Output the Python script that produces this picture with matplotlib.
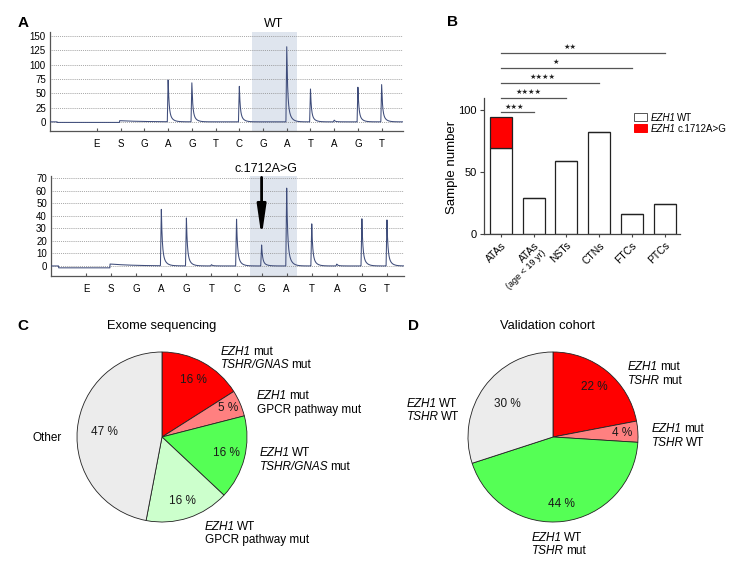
import numpy as np
import matplotlib
matplotlib.use("Agg")
import matplotlib.pyplot as plt
from matplotlib.patches import Rectangle

plt.rcParams['font.family'] = ['Liberation Sans', 'DejaVu Sans']

# ---------------- data ----------------
pyro_letters = list("ESGAGTCGATAGT")
wt_peaks = [0, 2, 0, 76, 69, 0, 64, 0, 133, 58, 3, 63, 66]
mut_peaks = [0, 1.5, 0, 46, 39, 1, 38, 17, 63, 34, 1.5, 38, 37]
wt_yticks = [0, 25, 50, 75, 100, 125, 150]
mut_yticks = [0, 10, 20, 30, 40, 50, 60, 70]

bar_cats = ["ATAs", "ATAs", "NSTs", "CTNs", "FTCs", "PTCs"]
bar_wt = [69, 29, 59, 82, 16, 24]
bar_mut = [25, 0, 0, 0, 0, 0]
sig_pairs = [(0, 1), (0, 2), (0, 3), (0, 4), (0, 5)]
sig_stars = [3, 4, 4, 1, 2]

c_values = [16, 5, 16, 16, 47]
c_colors = ["#ff0000", "#ff8080", "#55ff55", "#ccffcc", "#ececec"]
d_values = [22, 4, 44, 30]
d_colors = ["#ff0000", "#ff8080", "#55ff55", "#ececec"]

# ---------------- figure ----------------
W, H = 748, 572
fig = plt.figure(figsize=(W / 100, H / 100), dpi=100)


def ax_px(l, t, r, b):
    return fig.add_axes([l / W, 1 - b / H, (r - l) / W, (b - t) / H])


def peak_shape(t):
    out = np.zeros_like(t)
    rise = (t >= -0.035) & (t < 0)
    out[rise] = (t[rise] + 0.035) / 0.035
    dec = t >= 0
    out[dec] = 0.7 * np.exp(-t[dec] / 0.035) + 0.3 * np.exp(-t[dec] / 0.12)
    return out


def pyrogram(ax, peaks, xlim, ylim, yticks, pre_offset, band):
    x = np.linspace(xlim[0], xlim[1], 4000)
    pos = np.arange(1, len(peaks) + 1)
    y = np.zeros_like(x)
    for i, (p, h) in enumerate(zip(pos, peaks)):
        if i == 1:  # substrate step decays slowly
            t = x - p
            s = np.zeros_like(x)
            s[t >= -0.05] = np.exp(-np.clip(t[t >= -0.05], 0, None) / 0.9)
            y += h * s
        else:
            y += h * peak_shape(x - p)
    y[(x > xlim[0] + 0.3) & (x < pos[1] - 0.05)] += pre_offset
    ax.axvspan(band[0], band[1], color="#dfe5ee", zorder=0, lw=0)
    for yt in yticks:
        ax.axhline(yt, color="#8a8a8a", lw=0.6, ls=(0, (1, 1.3)), zorder=1)
    ax.plot(x, y, color="#3e4c7a", lw=0.75, zorder=3)
    ax.set_xlim(*xlim)
    ax.set_ylim(*ylim)
    ax.set_yticks(yticks)
    ax.set_xticks(pos)
    ax.set_xticklabels(pyro_letters)
    ax.tick_params(axis="y", length=0, pad=3, labelsize=7)
    ax.tick_params(axis="x", direction="in", length=2.5, pad=6, labelsize=7,
                   color="#555555", width=0.8)
    for s in ["top", "right"]:
        ax.spines[s].set_visible(False)
    for s in ["left", "bottom"]:
        ax.spines[s].set_color("#555555")
        ax.spines[s].set_linewidth(0.9)


# Panel A top
axA1 = ax_px(50, 32, 403, 131)
pyrogram(axA1, wt_peaks, (-0.98, 13.9), (-16, 157), wt_yticks, -1.0, (7.53, 9.42))
# Panel A bottom
axA2 = ax_px(51, 176, 404, 276)
pyrogram(axA2, mut_peaks, (-0.40, 13.68), (-8, 71.6), mut_yticks, -1.5, (7.54, 9.41))
axA2.annotate("", xy=(8, 23), xytext=(8, 70.5),
              arrowprops=dict(arrowstyle="-|>,head_length=0.9,head_width=0.13",
                              mutation_scale=20, lw=2.0, color="black",
                              shrinkA=0, shrinkB=0), annotation_clip=False, zorder=5)

# Panel B
axB = ax_px(484, 48, 680, 234)
xb = np.arange(len(bar_cats))
axB.bar(xb, bar_wt, width=0.67, color="white", edgecolor="#222222", lw=0.9, zorder=2)
axB.bar(xb, bar_mut, width=0.67, bottom=bar_wt, color="#ff0000", edgecolor="#222222",
        lw=0.9, zorder=2)
axB.set_xlim(-0.52, 5.47)
axB.set_ylim(0, 150)
axB.set_yticks([0, 50, 100])
axB.spines["left"].set_bounds(0, 110)
for s in ["top", "right"]:
    axB.spines[s].set_visible(False)
for s in ["left", "bottom"]:
    axB.spines[s].set_color("#444444")
    axB.spines[s].set_linewidth(0.9)
axB.tick_params(axis="y", length=3, pad=2, labelsize=8, color="#444444")
axB.tick_params(axis="x", length=2.5, pad=2, labelsize=7.5, color="#444444")
axB.set_xticks(xb)
axB.set_xticklabels(bar_cats, rotation=45, ha="right", rotation_mode="anchor")
axB.annotate("(age < 19 yr)", xy=(1, 0), xycoords=("data", "axes fraction"),
             xytext=(5.5, -10.5), textcoords="offset points", rotation=45,
             ha="right", va="top", rotation_mode="anchor", fontsize=6.5)
axB.set_ylabel("Sample number", fontsize=9.5)
axB.yaxis.set_label_coords(-0.135, 0.36)

for k, ((a, b), n) in enumerate(zip(sig_pairs, sig_stars)):
    yy = 98 + 12 * k
    axB.plot([a, b], [yy, yy], color="#555555", lw=0.9, clip_on=False)
    axB.text(a + 0.42 * (b - a), yy + 2.2, "\u2605" * n, ha="center", va="bottom",
             fontsize=5.2, family="DejaVu Sans", color="#222222")


# Pies
def pie(ax, values, colors, dists):
    wedges, _ = ax.pie(values, colors=colors, startangle=90, counterclock=False,
                       wedgeprops=dict(edgecolor="#222222", linewidth=0.6))
    lim = 100 / 85
    ax.set_xlim(-lim, lim)
    ax.set_ylim(-lim, lim)
    for w, v, d in zip(wedges, values, dists):
        ang = np.deg2rad((w.theta1 + w.theta2) / 2)
        ax.text(d * np.cos(ang), d * np.sin(ang), f"{v} %", ha="center",
                va="center", fontsize=8.5, color="#1a1a1a")


axC = ax_px(62, 337, 262, 537)
pie(axC, c_values, c_colors, [0.77, 0.85, 0.78, 0.79, 0.68])
axD = ax_px(453, 337, 653, 537)
pie(axD, d_values, d_colors, [0.77, 0.81, 0.79, 0.67])

# overlay in pixel coordinates for free text
ov = fig.add_axes([0, 0, 1, 1], zorder=10)
ov.set_xlim(0, W)
ov.set_ylim(H, 0)
ov.axis("off")


def mixed(x, y, parts, size=8.5):
    t = ov.text(x, y, parts[0][0], fontstyle=parts[0][1], fontsize=size,
                ha="left", va="baseline")
    prev = t
    for txt, st in parts[1:]:
        prev = ov.annotate(txt, xy=(1, 0), xycoords=prev, xytext=(0.16 * size, 0),
                           textcoords="offset points", ha="left", va="bottom",
                           fontstyle=st, fontsize=size)
    return t


def label2(x, y, line1, line2, gap=13.5, size=8.5):
    mixed(x, y, line1, size)
    mixed(x, y + gap, line2, size)


EZ = ("EZH1", "italic")
n = "normal"
# C labels (x, first baseline)
label2(221, 355, [EZ, ("mut", n)], [("TSHR/GNAS", "italic"), ("mut", n)])
label2(257, 399, [EZ, ("mut", n)], [("GPCR pathway mut", n)])
label2(260, 456, [EZ, ("WT", n)], [("TSHR/GNAS", "italic"), ("mut", n)])
label2(205, 530, [EZ, ("WT", n)], [("GPCR pathway mut", n)])
ov.text(62, 441, "Other", ha="right", va="baseline", fontsize=8.5)
# D labels
label2(628, 370, [EZ, ("mut", n)], [("TSHR", "italic"), ("mut", n)])
label2(652, 432, [EZ, ("mut", n)], [("TSHR", "italic"), ("WT", n)])
label2(532, 541, [EZ, ("WT", n)], [("TSHR", "italic"), ("mut", n)])
label2(407, 407, [EZ, ("WT", n)], [("TSHR", "italic"), ("WT", n)])

# Legend of panel B
ov.add_patch(Rectangle((634, 113), 13, 8, facecolor="white", edgecolor="#555555", lw=0.7))
ov.add_patch(Rectangle((634, 124), 13, 8, facecolor="#ff0000", edgecolor="#ff0000", lw=0.7))
mixed(651, 121, [EZ, ("WT", n)], size=7)
mixed(651, 132, [EZ, ("c.1712A>G", n)], size=7)

# Titles
ov.text(274, 27, "WT", ha="center", va="baseline", fontsize=9)
ov.text(266, 172, "c.1712A>G", ha="center", va="baseline", fontsize=9)
ov.text(162, 329, "Exome sequencing", ha="center", va="baseline", fontsize=9.3)
ov.text(547, 329, "Validation cohort", ha="center", va="baseline", fontsize=9.3)

# Panel letters
for ch, (px, py) in zip("ABCD", [(18, 27), (447, 26), (17, 330), (408, 330)]):
    ov.text(px, py, ch, ha="left", va="baseline", fontsize=11, fontweight="bold")

fig.savefig("out.png", dpi=100)
